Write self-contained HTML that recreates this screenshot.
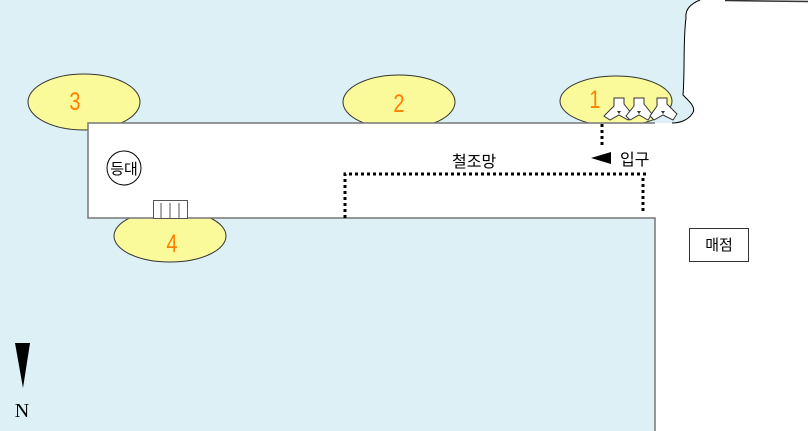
<!DOCTYPE html>
<html><head><meta charset="utf-8"><style>body{margin:0}svg{display:block}</style></head><body>
<svg width="808" height="431" viewBox="0 0 808 431" xmlns="http://www.w3.org/2000/svg" font-family="'Liberation Sans','Noto Sans CJK KR',sans-serif">
<rect width="808" height="431" fill="#dcf0f6"/>
<path d="M700,0 C690,4 685,10 686,18 C683,40 685,70 683,95 C690,102 697,108 692,114 C688,120 680,123 672,123 L655,123 L655,431 L808,431 L808,0 Z" fill="#fff"/>
<path d="M700,0 C690,4 685,10 686,18 C683,40 685,70 683,95 C690,102 697,108 692,114 C688,120 680,123 672,123" fill="none" stroke="#000" stroke-width="1"/>
<line x1="725" y1="0.5" x2="808" y2="1.5" stroke="#333" stroke-width="1.5"/>
<g fill="#fafa9a" stroke="#333" stroke-width="1">
<ellipse cx="84" cy="102" rx="56" ry="28"/>
<ellipse cx="399" cy="102" rx="56" ry="27"/>
<ellipse cx="616" cy="101" rx="56" ry="25"/>
<ellipse cx="170" cy="236" rx="56" ry="26"/>
</g>
<g fill="#ff8000" font-size="25" text-anchor="middle">
<text transform="translate(75,110) scale(0.8,1)">3</text>
<text transform="translate(399,112) scale(0.8,1)">2</text>
<text transform="translate(595,108) scale(0.8,1)">1</text>
<text transform="translate(172,252) scale(0.8,1)">4</text>
</g>
<path d="M655,431 L655,218 L88,218 L88,123 L655,123" fill="#fff" stroke="#777" stroke-width="1.5"/>
<g fill="#fff" stroke="#333" stroke-width="1">
<path d="M614,98 L624,98 L624,104 L632,114 L628,120 L619,115 L610,120 L604,116 L614,106 Z"/>
<path d="M634,98 L644,98 L644,104 L652,114 L648,120 L639,115 L630,120 L626,116 L634,106 Z"/>
<path d="M657,98 L667,98 L667,104 L677,114 L673,120 L663,115 L654,120 L650,116 L657,106 Z"/>
</g>
<g fill="#333"><path d="M617,111 h4 l-2,3z"/><path d="M637,111 h4 l-2,3z"/><path d="M661,111 h4 l-2,3z"/></g>
<g fill="none" stroke="#000" stroke-width="3" stroke-dasharray="3,3">
<path d="M345,218 L345,174 L648,174"/>
<path d="M643,178 L643,214"/>
<path d="M602,124 L602,146"/>
</g>
<path d="M591,158 L611,152 L611,164 Z" fill="#000"/>
<text x="620" y="165" font-size="16">입구</text>
<text x="452" y="167" font-size="16">철조망</text>
<circle cx="124" cy="168" r="17" fill="#fff" stroke="#000"/>
<text x="124" y="174" font-size="15" text-anchor="middle">등대</text>
<rect x="153.5" y="200.5" width="34" height="18" fill="#fff" stroke="#555"/>
<path d="M161,203 V218 M170,203 V218 M179,203 V218" stroke="#555"/>
<rect x="689.5" y="228.5" width="59" height="33" fill="#fff" stroke="#333"/>
<text x="719" y="250" font-size="15" text-anchor="middle">매점</text>
<path d="M15,343 L30,343 L23,388 Z" fill="#000"/>
<text x="22" y="417" font-size="20" text-anchor="middle" font-family="'Liberation Serif',serif">N</text>
</svg>
</body></html>
